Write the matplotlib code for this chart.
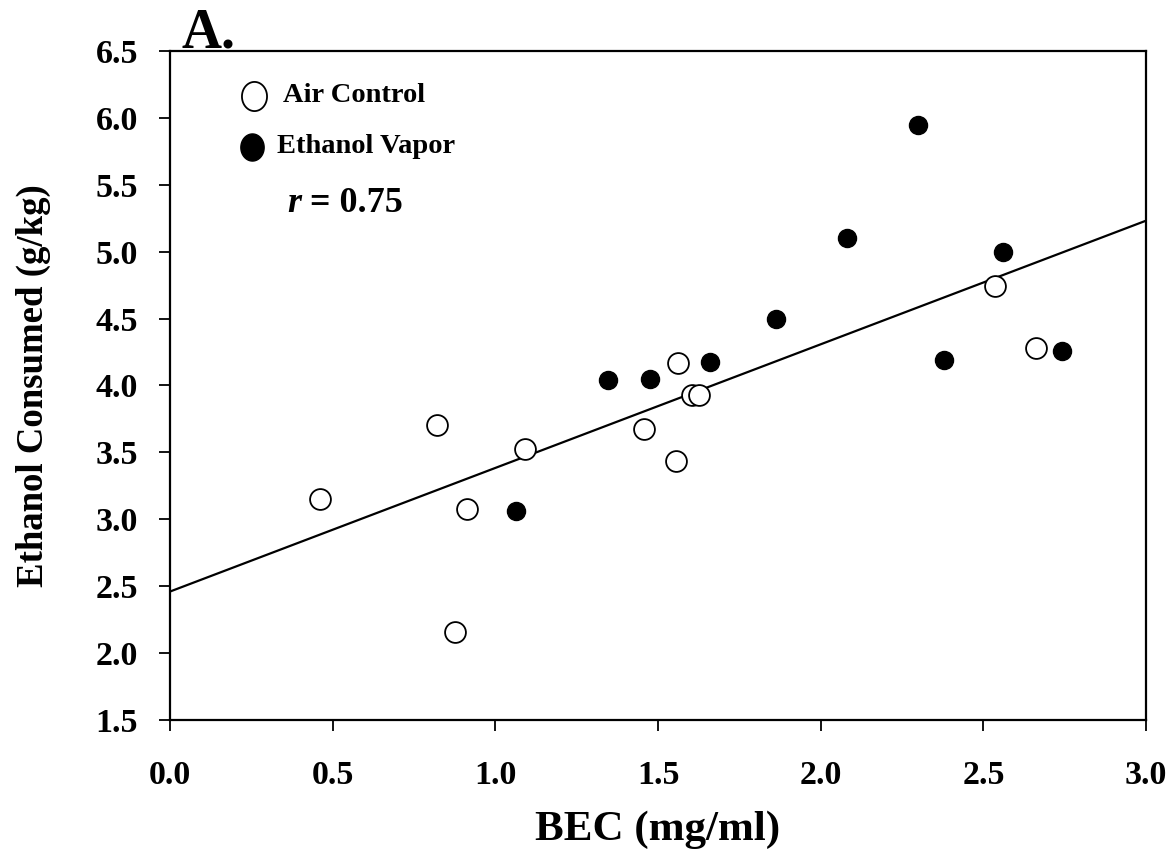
import matplotlib
matplotlib.use("Agg")
import matplotlib.pyplot as plt
import numpy as np
from matplotlib.path import Path

air_x = [0.46, 0.82, 0.875, 0.913, 1.09, 1.456, 1.555, 1.56, 1.605, 1.625, 2.536, 2.662]
air_y = [3.152, 3.705, 2.155, 3.077, 3.523, 3.673, 3.433, 4.166, 3.929, 3.929, 4.744, 4.28]

eth_x = [1.062, 1.345, 1.476, 1.661, 1.864, 2.081, 2.300, 2.378, 2.559, 2.741]
eth_y = [3.060, 4.041, 4.050, 4.178, 4.497, 5.102, 5.945, 4.191, 4.995, 4.260]

fit_x = [0.0, 3.0]
fit_y = [2.46, 5.232]

xticks = [0.0, 0.5, 1.0, 1.5, 2.0, 2.5, 3.0]
yticks = [1.5, 2.0, 2.5, 3.0, 3.5, 4.0, 4.5, 5.0, 5.5, 6.0, 6.5]

plt.rcParams['font.family'] = ['Liberation Serif', 'DejaVu Serif']
plt.rcParams['font.weight'] = 'bold'

# slightly tall ellipse marker for the key
t = np.linspace(0, 2 * np.pi, 73)
ell = Path(np.column_stack([0.86 * np.cos(t), np.sin(t)]), closed=True)

fig = plt.figure(figsize=(11.71, 8.56), dpi=100)
ax = fig.add_axes([0.1452, 0.1589, 0.8335, 0.7815])

ax.plot(fit_x, fit_y, color='black', lw=1.6, zorder=1)
ax.plot(air_x, air_y, 'o', ms=15, mfc='white', mec='black', mew=1.3, ls='none', zorder=3)
ax.plot(eth_x, eth_y, 'o', ms=13, mfc='black', mec='black', ls='none', zorder=3)

ax.set_xlim(0, 3)
ax.set_ylim(1.5, 6.5)
ax.set_xticks(xticks)
ax.set_yticks(yticks)
ax.set_xticklabels([f"{v:.1f}" for v in xticks], fontsize=24.5, fontweight='bold')
ax.set_yticklabels([f"{v:.1f}" for v in yticks], fontsize=24.5, fontweight='bold')
ax.tick_params(axis='x', direction='out', length=8, width=1.3, pad=21)
ax.tick_params(axis='y', direction='out', length=8, width=1.3, pad=15)
for s in ax.spines.values():
    s.set_linewidth(1.6)

ax.set_xlabel('BEC (mg/ml)', fontsize=31, fontweight='bold', labelpad=14)
ax.set_ylabel('Ethanol Consumed (g/kg)', fontsize=26.5, fontweight='bold', labelpad=32)

# key drawn inside the plot
ax.plot([0.258], [6.164], marker=ell, ms=21, mfc='white', mec='black', mew=1.3, clip_on=False)
ax.text(0.347, 6.164, 'Air Control', fontsize=20.5, fontweight='bold', va='center', ha='left')
ax.plot([0.252], [5.783], marker=ell, ms=19.5, mfc='black', mec='black', clip_on=False)
ax.text(0.329, 5.783, 'Ethanol Vapor', fontsize=20.5, fontweight='bold', va='center', ha='left')
tr = ax.text(0.36, 5.364, 'r', fontsize=26, fontweight='bold', fontstyle='italic',
             va='center', ha='left')
ax.annotate(' = 0.75', xy=(1.0, 0.0), xycoords=tr, fontsize=26, fontweight='bold',
            va='bottom', ha='left')

fig.text(0.1554, 1 - 47 / 856, 'A.', fontsize=40, fontweight='bold', ha='left', va='baseline')

fig.savefig('out.png', dpi=100)
